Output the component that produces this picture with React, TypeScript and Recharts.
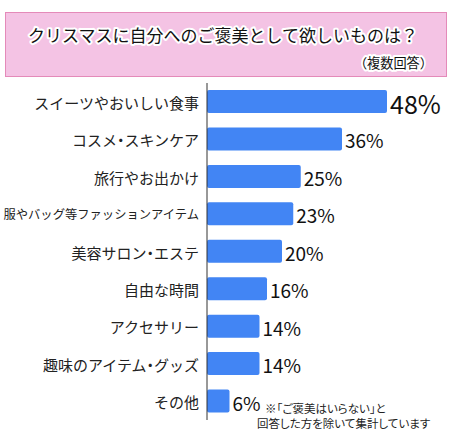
import React from "react";
import { BarChart, Bar, XAxis, YAxis, LabelList } from "recharts";

const categories = [
  "スイーツやおいしい食事",
  "コスメ・スキンケア",
  "旅行やお出かけ",
  "服やバッグ等ファッションアイテム",
  "美容サロン・エステ",
  "自由な時間",
  "アクセサリー",
  "趣味のアイテム・グッズ",
  "その他",
];
const values = [48, 36, 25, 23, 20, 16, 14, 14, 6];

const TITLE = "クリスマスに自分へのご褒美として欲しいものは？";
const SUBTITLE = "（複数回答）";
const NOTE_1 = "※「ご褒美はいらない」と";
const NOTE_2 = "回答した方を除いて集計しています";

const FONT = "'Noto Sans CJK JP', 'Noto Sans', sans-serif";
const BAR_COLOR = "#4285f4";
const PALT = { fontFeatureSettings: '"palt"' };

const data = categories.map((name, i) => ({ name, value: values[i] }));

function CategoryTick({ x, y, payload }: any) {
  const label: string = payload.value;
  const long = label.length > 12;
  // 中黒だけ詰める
  const parts = label.split("・");
  return (
    <text
      x={x}
      y={y}
      textAnchor="end"
      dominantBaseline="central"
      fontSize={long ? 12.3 : 15}
      fill="#222"
      fontFamily={FONT}
    >
      {parts.map((p, i) => (
        <React.Fragment key={i}>
          {i > 0 && <tspan style={PALT}>・</tspan>}
          <tspan>{p}</tspan>
        </React.Fragment>
      ))}
    </text>
  );
}

function ValueLabel({ x, y, width, height, value, index }: any) {
  const big = index === 0;
  return (
    <text
      x={x + width + 3}
      y={y + height / 2 + 1}
      dominantBaseline="central"
      fontSize={big ? 25 : 19}
      fill="#111"
      fontFamily={FONT}
    >
      {value}%
    </text>
  );
}

export default function App() {
  return (
    <div style={{ position: "relative", width: 452, height: 431, background: "#fff", fontFamily: FONT }}>
      <style>{`body{margin:0}`}</style>
      {/* タイトル枠 */}
      <div
        style={{
          position: "absolute",
          left: 5,
          top: 12,
          width: 440,
          height: 63,
          background: "#f4c3e4",
          border: "1px solid #e48ab9",
        }}
      />
      <svg width={452} height={431} style={{ position: "absolute", left: 0, top: 0, pointerEvents: "none" }}>
        <text
          x={223}
          y={34}
          textAnchor="middle"
          dominantBaseline="central"
          fontSize={17}
          fontFamily={FONT}
          fill="#111"
          stroke="#fff"
          strokeWidth={4}
          strokeLinejoin="round"
          paintOrder="stroke"
        >
          {TITLE}
        </text>
        <text
          x={433}
          y={62}
          textAnchor="end"
          dominantBaseline="central"
          fontSize={13.2}
          fontFamily={FONT}
          fill="#111"
          stroke="#fff"
          strokeWidth={4}
          strokeLinejoin="round"
          paintOrder="stroke"
        >
          {SUBTITLE}
        </text>
        {/* 注記 */}
        <text x={265} y={408} dominantBaseline="central" fontSize={11.5} fontFamily={FONT} fill="#222" style={PALT}>
          {NOTE_1}
        </text>
        <text x={257} y={423} dominantBaseline="central" fontSize={11.5} fontFamily={FONT} fill="#222" style={PALT}>
          {NOTE_2}
        </text>
      </svg>
      <div style={{ position: "absolute", left: 0, top: 0 }}>
        <BarChart
          width={452}
          height={431}
          data={data}
          layout="vertical"
          margin={{ top: 83, right: 5, bottom: 11, left: 0 }}
        >
          <XAxis type="number" domain={[0, 64]} hide />
          <YAxis
            type="category"
            dataKey="name"
            width={207}
            tickLine={false}
            axisLine={{ stroke: "#333" }}
            tick={<CategoryTick />}
            interval={0}
          />
          <Bar dataKey="value" fill={BAR_COLOR} barSize={23} radius={2} isAnimationActive={false}>
            <LabelList dataKey="value" content={<ValueLabel />} />
          </Bar>
        </BarChart>
      </div>
    </div>
  );
}
